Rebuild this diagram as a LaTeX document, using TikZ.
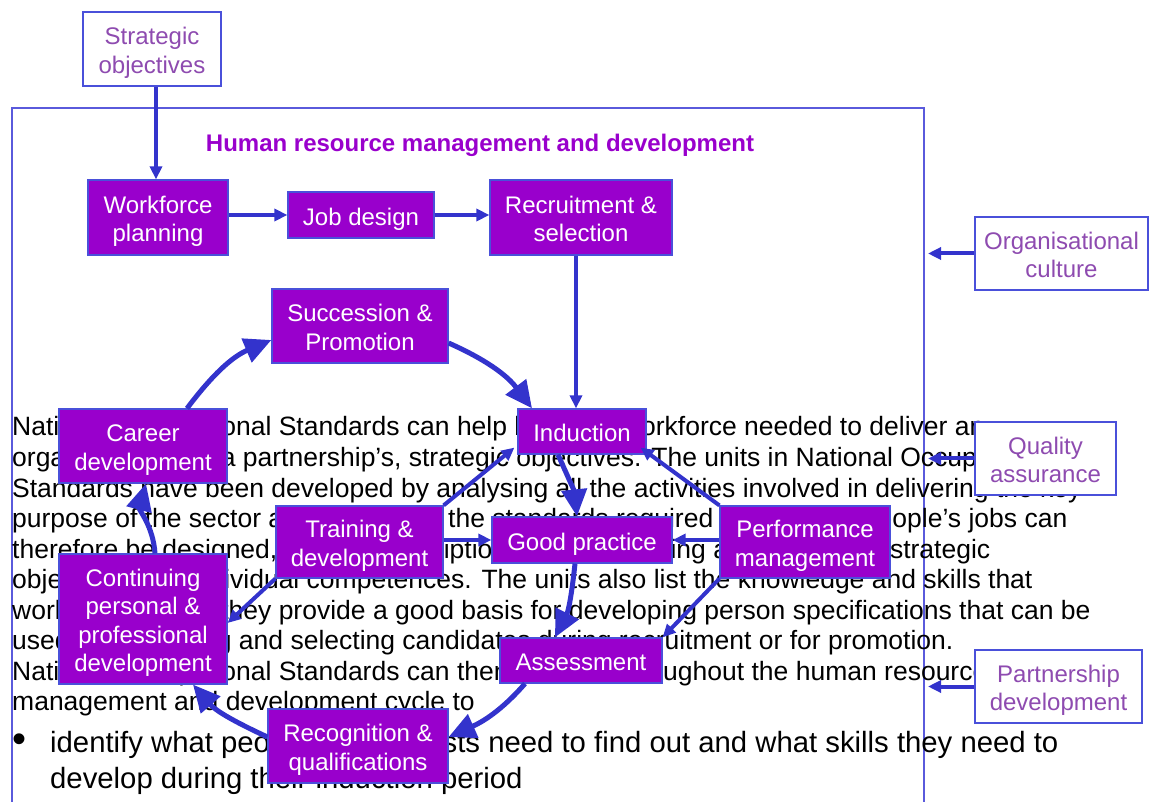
\documentclass[tikz,border=0pt]{standalone}
\usepackage{fontspec}
\setmainfont{Liberation Sans}
\usetikzlibrary{arrows.meta}
\definecolor{purp}{HTML}{9900CC}
\definecolor{bord}{HTML}{4A50DA}
\definecolor{arrc}{HTML}{3333CC}
\definecolor{lab}{HTML}{8E4BB0}
\definecolor{frm}{HTML}{5A5ADC}
\newcommand{\bxt}[1]{\begin{tabular}{@{}c@{}}\rule{0pt}{29pt}#1\end{tabular}}
\begin{document}
\begin{tikzpicture}[x=1pt,y=1pt,
  pbox/.style={fill=purp,draw=bord,line width=1.2pt,text=white,font=\fontsize{24}{28.5}\selectfont,inner sep=0pt},
  obox/.style={fill=white,draw=bord,line width=1.2pt,text=lab,font=\fontsize{24}{28.5}\selectfont,inner sep=0pt},
  body/.style={anchor=base west,inner sep=0pt,font=\fontsize{26.5}{30.5}\selectfont},
  bul/.style={anchor=base west,inner sep=0pt,font=\fontsize{29.3}{38}\selectfont},
  arr/.style={draw=arrc,line width=4pt,-{Triangle[length=13pt,width=12pt]}},
  cyc/.style={draw=arrc,line width=5pt,-{Triangle[length=27pt,width=25pt]}},
  ttl/.style={anchor=base,inner sep=0pt,text=purp,font=\fontsize{24}{28}\selectfont\bfseries}
]
\useasboundingbox (0,0) rectangle (1150,801);
% frame of the HR area
\draw[frm,line width=1.3pt] (12,-5) -- (12,693) -- (924,693) -- (924,-5);
\coordinate (fr) at (928,0);
\node[ttl] (title) at (480,649) {Human resource management and development};
% body text behind the diagram
\node[body] (t1) at (12,365) {National Occupational Standards can help build the workforce needed to deliver an};
\node[body] (t2) at (12,334.5) {organisation’s, or a partnership’s, strategic objectives. The units in National Occupational};
\node[body] (t3) at (12,304) {Standards have been developed by analysing all the activities involved in delivering the key};
\node[body] (t4) at (12,273.5) {purpose of the sector and describing the standards required of workers. People’s jobs can};
\node[body] (t5) at (12,243) {therefore be designed, and job descriptions written, making a link between strategic};
\node[body] (t6) at (12,212.5) {objectives and individual competences. The units also list the knowledge and skills that};
\node[body] (t7) at (12,182) {workers need, so they provide a good basis for developing person specifications that can be};
\node[body] (t8) at (12,151.5) {used in shortlisting and selecting candidates during recruitment or for promotion.};
\node[body] (t9) at (12,121) {National Occupational Standards can then be used throughout the human resource};
\node[body] (t10) at (12,90.5) {management and development cycle to};
\node[bul,font=\fontsize{40}{40}\selectfont] (b0) at (12,49) {•};
\node[bul] (b1) at (50,49) {identify what people in new posts need to find out and what skills they need to};
\node[bul] (b2) at (50,13) {develop during their induction period};
% boxes
\node[obox,minimum width=138pt,minimum height=74pt] (strat) at (152,752) {\bxt{Strategic\\objectives}};
\node[pbox,minimum width=140pt,minimum height=75pt] (wf) at (158,583.5) {\bxt{Workforce\\planning}};
\node[pbox,minimum width=146pt,minimum height=46pt] (job) at (361,586) {\bxt{Job design}};
\node[pbox,minimum width=182pt,minimum height=75pt] (rec) at (581,583.5) {\bxt{Recruitment \&\\selection}};
\node[obox,minimum width=173pt,minimum height=73pt] (org) at (1061.5,547.5) {\bxt{Organisational\\culture}};
\node[pbox,minimum width=176pt,minimum height=74pt] (succ) at (360,475) {\bxt{Succession \&\\Promotion}};
\node[pbox,minimum width=128pt,minimum height=45pt] (ind) at (582,369.5) {\bxt{Induction}};
\node[pbox,minimum width=168pt,minimum height=74pt] (career) at (143,355) {\bxt{Career\\development}};
\node[obox,minimum width=141pt,minimum height=73pt] (qa) at (1045.5,342.5) {\bxt{Quality\\assurance}};
\node[pbox,minimum width=167pt,minimum height=72pt] (train) at (359.5,259) {\bxt{Training \&\\development}};
\node[pbox,minimum width=180pt,minimum height=46pt] (good) at (582,261) {\bxt{Good practice}};
\node[pbox,minimum width=170pt,minimum height=72pt] (perf) at (805,259) {\bxt{Performance\\management}};
\node[pbox,minimum width=168pt,minimum height=130pt] (cont) at (143,182) {\bxt{Continuing\\personal \&\\professional\\development}};
\node[pbox,minimum width=162pt,minimum height=45pt] (assess) at (581,140.5) {\bxt{Assessment}};
\node[obox,minimum width=167pt,minimum height=73pt] (part) at (1058.5,114.5) {\bxt{Partnership\\development}};
\node[pbox,minimum width=180pt,minimum height=74pt] (recog) at (358,55) {\bxt{Recognition \&\\qualifications}};
% straight connectors
\draw[arr] ([xshift=4pt]strat.south) -- ([xshift=4pt]strat.south |- wf.north);
\draw[arr] (wf.east |- job.west) -- (job.west);
\draw[arr] (job.east) -- (job.east -| rec.west);
\draw[arr] ([xshift=-5pt]rec.south) -- ([xshift=-5pt]rec.south |- ind.north);
\draw[arr] (org.west) -- (org.west -| fr);
\draw[arr] (qa.west) -- (qa.west -| fr);
\draw[arr] (part.west) -- (part.west -| fr);
\draw[arr] (train.north east) -- ([xshift=-3pt,yshift=7pt]ind.south west);
\draw[arr] (train.east |- good.west) -- (good.west);
\draw[arr] (train.south west) -- ([yshift=-4pt]cont.east);
\draw[arr] (perf.north west) -- ([xshift=-6pt,yshift=7pt]ind.south east);
\draw[arr] (perf.west |- good.east) -- (good.east);
\draw[arr] (perf.south west) -- (assess.north east);
% cycle
\draw[cyc] ([xshift=44pt]career.north) to[out=53,in=203] ([yshift=-14pt]succ.west);
\draw[cyc] ([yshift=-17pt]succ.east) to[out=-24,in=127] ([xshift=-50pt]ind.north);
\draw[cyc] ([xshift=-24pt]ind.south) to[out=-66,in=96] ([xshift=-5pt]good.north);
\draw[cyc] ([xshift=-7pt]good.south) to[out=-96,in=63] ([xshift=-26pt]assess.north);
\draw[cyc] ([xshift=-56pt]assess.south) to[out=-131,in=24] ([yshift=9pt]recog.east);
\draw[cyc] ([yshift=9pt]recog.west) to[out=155,in=-49] ([xshift=50pt]cont.south);
\draw[cyc] ([xshift=12pt]cont.north) to[out=94,in=255] ([xshift=3pt]career.south);
\end{tikzpicture}
\end{document}
